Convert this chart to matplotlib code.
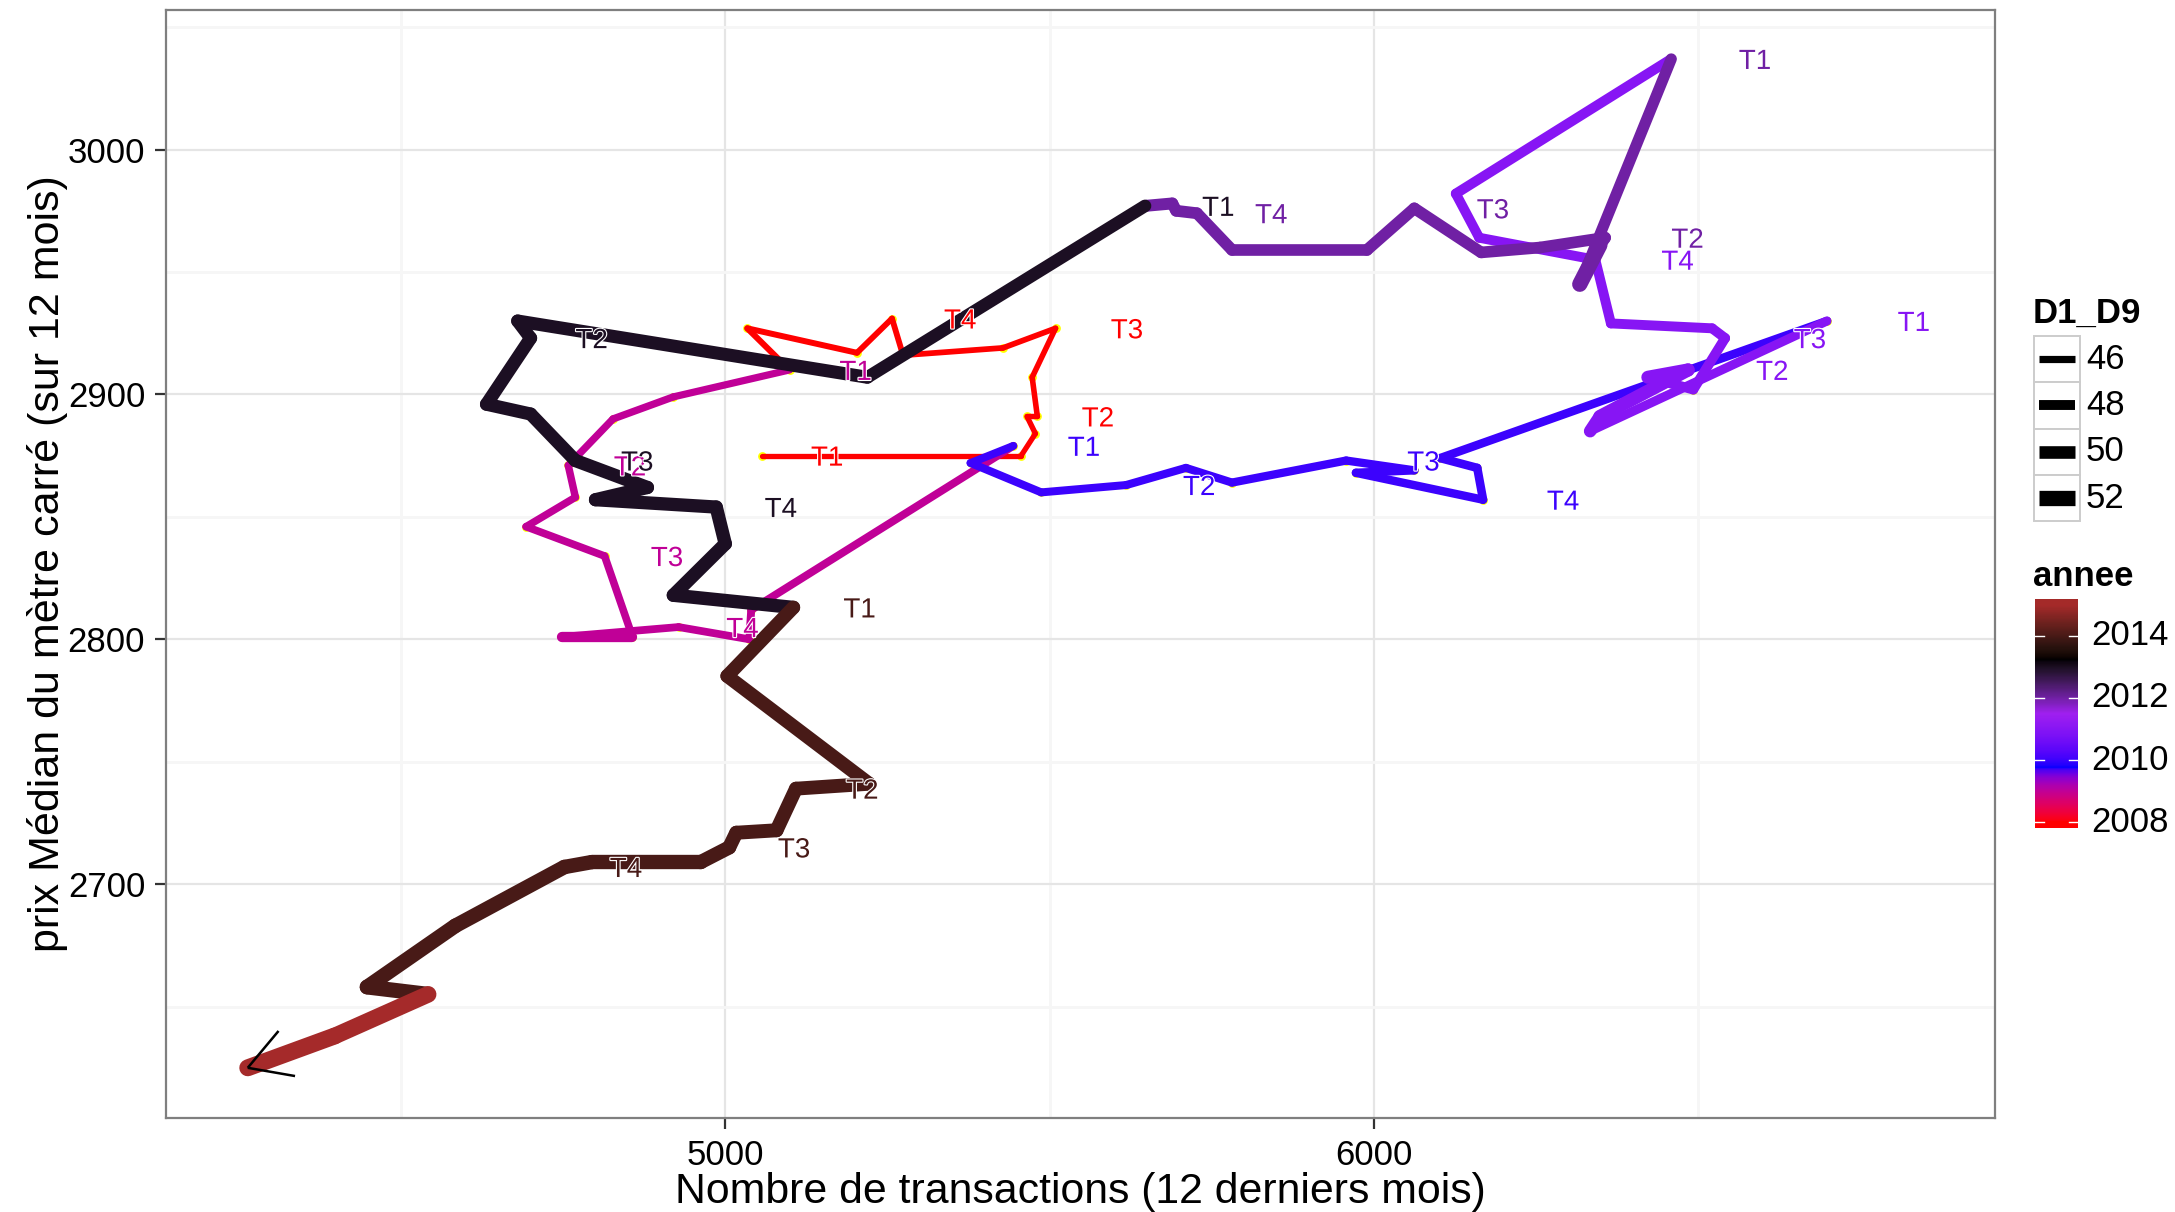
import numpy as np
import matplotlib.pyplot as plt
import matplotlib.patheffects as pe
from matplotlib.collections import LineCollection
from matplotlib.colors import ListedColormap, Normalize, to_rgb
from matplotlib.patches import Rectangle

plt.rcParams['font.family'] = ['Liberation Sans', 'DejaVu Sans']

DPI = 200
W, H = 2175, 1212

# monthly values, rolling 12 months (Jan..Dec of each year)
nb_2008 = [5056, 5456, 5478, 5465, 5481, 5473, 5509, 5428, 5274, 5257, 5203, 5034]
prix_2008 = [2875, 2875, 2884, 2891, 2891, 2907, 2927, 2919, 2916, 2931, 2917, 2927]
d1d9_2008 = [44.6, 44.6, 44.7, 44.7, 44.8, 44.8, 44.9, 44.9, 45.0, 45.0, 45.1, 45.2]

nb_2009 = [5099, 4920, 4827, 4758, 4769, 4693, 4814, 4857, 4749, 4928, 5037, 5040]
prix_2009 = [2910, 2899, 2890, 2871, 2858, 2846, 2834, 2801, 2801, 2805, 2800, 2812]
d1d9_2009 = [46.0, 46.1, 46.1, 46.2, 46.2, 46.3, 46.3, 48.3, 46.4, 46.4, 46.5, 46.5]

nb_2010 = [5444, 5378, 5487, 5618, 5710, 5781, 5957, 6062, 5972, 6168, 6159, 6102]
prix_2010 = [2879, 2872, 2860, 2863, 2870, 2864, 2873, 2869, 2868, 2857, 2870, 2874]
d1d9_2010 = [46.5, 46.6, 46.6, 46.7, 46.7, 46.8, 46.8, 46.9, 46.9, 47.0, 47.0, 47.0]

nb_2011 = [6698, 6333, 6348, 6484, 6422, 6492, 6541, 6521, 6365, 6341, 6162, 6126]
prix_2011 = [2930, 2885, 2891, 2910, 2907, 2902, 2923, 2927, 2929, 2955, 2964, 2982]
d1d9_2011 = [47.4, 50.0, 50.4, 50.4, 48.0, 48.0, 48.0, 48.0, 48.0, 48.0, 48.0, 48.1]

nb_2012 = [6458, 6317, 6348, 6356, 6256, 6165, 6062, 5989, 5781, 5727, 5695, 5689]
prix_2012 = [3037, 2945, 2961, 2964, 2960, 2958, 2976, 2959, 2959, 2974, 2975, 2978]
d1d9_2012 = [49.0, 52.0, 49.5, 49.3, 49.3, 49.3, 49.3, 49.3, 49.3, 49.4, 49.4, 49.5]

nb_2013 = [5647, 5219, 4680, 4700, 4632, 4700, 4769, 4880, 4800, 4986, 5000, 4920]
prix_2013 = [2977, 2907, 2930, 2923, 2896, 2892, 2873, 2862, 2857, 2854, 2839, 2818]
d1d9_2013 = [50.0, 50.3, 50.3, 50.4, 50.4, 50.4, 50.5, 50.5, 50.5, 50.6, 50.6, 50.6]

nb_2014 = [5105, 5003, 5222, 5109, 5079, 5017, 5006, 4962, 4794, 4752, 4584, 4448]
prix_2014 = [2813, 2785, 2741, 2739, 2722, 2721, 2715, 2709, 2709, 2707, 2683, 2658]
d1d9_2014 = [50.8, 50.8, 50.9, 51.0, 51.0, 51.1, 51.2, 51.3, 51.4, 51.5, 51.6, 51.8]

nb_2015 = [4542, 4398, 4264]
prix_2015 = [2655, 2638, 2625]
d1d9_2015 = [53.0, 53.2, 53.3]

years = list(range(2008, 2016))
nb_by_year = [nb_2008, nb_2009, nb_2010, nb_2011, nb_2012, nb_2013, nb_2014, nb_2015]
prix_by_year = [prix_2008, prix_2009, prix_2010, prix_2011, prix_2012, prix_2013, prix_2014, prix_2015]
d1d9_by_year = [d1d9_2008, d1d9_2009, d1d9_2010, d1d9_2011, d1d9_2012, d1d9_2013, d1d9_2014, d1d9_2015]

trimestres = ['T1', 'T2', 'T3', 'T4']
trimestre_mois = [0, 3, 6, 9]
label_years = list(range(2008, 2015))

size_breaks = [46, 48, 50, 52]
annee_breaks = [2008, 2010, 2012, 2014]
gradient_colours = ['red', 'blue', '#A020F0', 'black', 'brown']

nb = np.concatenate(nb_by_year).astype(float)
prix = np.concatenate(prix_by_year).astype(float)
d1d9 = np.concatenate(d1d9_by_year)
annee = np.concatenate([[y] * len(v) for y, v in zip(years, nb_by_year)])


# --- colour gradient interpolated in Lab space ---
M = np.array([[0.4124, 0.3576, 0.1805],
              [0.2126, 0.7152, 0.0722],
              [0.0193, 0.1192, 0.9505]])
WHITE = np.array([0.95047, 1.0, 1.08883])
EPS, KAPPA = 216 / 24389, 24389 / 27


def to_lab(rgb):
    rgb = np.asarray(rgb, float)
    lin = np.where(rgb <= 0.04045, rgb / 12.92, ((rgb + 0.055) / 1.055) ** 2.4)
    xyz = lin @ M.T / WHITE
    f = np.where(xyz > EPS, np.cbrt(xyz), (KAPPA * xyz + 16) / 116)
    return np.stack([116 * f[..., 1] - 16,
                     500 * (f[..., 0] - f[..., 1]),
                     200 * (f[..., 1] - f[..., 2])], -1)


def from_lab(lab):
    fy = (lab[..., 0] + 16) / 116
    f = np.stack([fy + lab[..., 1] / 500, fy, fy - lab[..., 2] / 200], -1)
    xyz = np.where(f ** 3 > EPS, f ** 3, (116 * f - 16) / KAPPA) * WHITE
    lin = xyz @ np.linalg.inv(M).T
    lin = np.clip(lin, 0, None)
    rgb = np.where(lin <= 0.0031308, 12.92 * lin, 1.055 * lin ** (1 / 2.4) - 0.055)
    return np.clip(rgb, 0, 1)


anchors = to_lab([to_rgb(c) for c in gradient_colours])
t = np.linspace(0, 1, 256) * (len(anchors) - 1)
i = np.minimum(t.astype(int), len(anchors) - 2)
frac = (t - i)[:, None]
cmap = ListedColormap(from_lab(anchors[i] * (1 - frac) + anchors[i + 1] * frac))
norm = Normalize(2008, 2015)


def line_pt(d):
    return (7.2 + (np.asarray(d) - 46) * 1.35) * 72 / DPI


# --- figure ---
fig = plt.figure(figsize=(W / DPI, H / DPI), dpi=DPI)
px_left, px_right, px_top, px_bottom = 166, 1995, 10, 1118
ax = fig.add_axes([px_left / W, 1 - px_bottom / H,
                   (px_right - px_left) / W, (px_bottom - px_top) / H])

ax.scatter(nb, prix, s=10, color='yellow', linewidths=0, zorder=2)

pts = np.column_stack([nb, prix])
segs = np.stack([pts[:-1], pts[1:]], axis=1)
lc = LineCollection(segs, colors=cmap(norm(annee[:-1])), linewidths=line_pt(d1d9[:-1]),
                    capstyle='round', joinstyle='round', zorder=3)
ax.add_collection(lc)

halo = [pe.withStroke(linewidth=0.8, foreground='white')]
for y, xs, ys in zip(years, nb_by_year, prix_by_year):
    if y not in label_years:
        continue
    for lab, m in zip(trimestres, trimestre_mois):
        ax.text(xs[m] * 1.02, ys[m], lab, color=cmap(norm(y)), fontsize=10,
                ha='center', va='center_baseline', zorder=4, path_effects=halo)

ax.set_xlim(4138, 6957)
ax.set_ylim(2604.5, 3057)
ax.set_xticks([5000, 6000])
ax.set_xticks([4500, 5500, 6500], minor=True)
ax.set_yticks([2700, 2800, 2900, 3000])
ax.set_yticks([2650, 2750, 2850, 2950, 3050], minor=True)
ax.grid(which='major', color='#E5E5E5', linewidth=0.8)
ax.grid(which='minor', color='#F6F6F6', linewidth=1.0)
ax.set_axisbelow(True)
ax.tick_params(which='major', length=4, width=0.8, color='#333333',
               labelsize=12.5, labelcolor='black', pad=3.5)
ax.tick_params(which='minor', length=0)
for sp in ax.spines.values():
    sp.set_color('#7F7F7F')
    sp.set_linewidth(0.8)

ax.set_xlabel('Nombre de transactions (12 derniers mois)', fontsize=15.4)
ax.set_ylabel('prix Médian du mètre carré (sur 12 mois)', fontsize=15.5)
ax.xaxis.label.set_va('center')
ax.yaxis.label.set_va('center')
ax.xaxis.set_label_coords(0.5, (px_bottom - 1192) / (px_bottom - px_top))
ax.yaxis.set_label_coords((48 - px_left) / (px_right - px_left), 0.5)

# open arrow head at the end of the path
tip = ax.transData.transform(pts[-1])
prev = ax.transData.transform(pts[-2])
ang = np.arctan2(*(prev - tip)[::-1])
inv = ax.transData.inverted()
for s in (1, -1):
    a = ang + s * np.radians(30)
    end = inv.transform(tip + 48 * np.array([np.cos(a), np.sin(a)]))
    ax.plot([pts[-1, 0], end[0]], [pts[-1, 1], end[1]], color='black', lw=0.9,
            solid_capstyle='butt', zorder=5)

# --- legends, laid out in pixel units ---
lax = fig.add_axes([0, 0, 1, 1], facecolor='none')
lax.axis('off')

lax.text(2033, 313, 'D1_D9', fontsize=12.5, fontweight='bold', ha='left', va='center')
key_h = 46.3
for k, d in enumerate(size_breaks):
    y0 = 336 + key_h * k
    lax.add_patch(Rectangle((2034, y0), 46, key_h, facecolor='white',
                            edgecolor='#CCCCCC', linewidth=0.7))
    lax.plot([2039, 2075], [y0 + key_h / 2] * 2, color='black', lw=line_pt(d),
             solid_capstyle='butt')
    lax.text(2086, y0 + key_h / 2, str(d), fontsize=12.5, ha='left', va='center')

lax.text(2033, 576, 'annee', fontsize=12.5, fontweight='bold', ha='left', va='center')
bar_l, bar_r, bar_t, bar_b = 2035, 2078, 599, 828
pad = 0.025 * 7 / 0.95
lo, hi = 2008 - pad, 2015 + pad
vals = np.linspace(hi, lo, 300)[:, None]
lax.imshow(vals, cmap=cmap, norm=norm, extent=(bar_l, bar_r, bar_b, bar_t),
           aspect='auto', interpolation='bilinear')
for v in annee_breaks:
    yv = bar_b - (v - lo) / (hi - lo) * (bar_b - bar_t)
    lax.plot([bar_l, bar_l + 9], [yv, yv], color='white', lw=0.5)
    lax.plot([bar_r - 9, bar_r], [yv, yv], color='white', lw=0.5)
    lax.text(2091, yv, str(v), fontsize=12.5, ha='left', va='center')

lax.set_xlim(0, W)
lax.set_ylim(H, 0)

fig.savefig('out.png', dpi=DPI, facecolor='white')
